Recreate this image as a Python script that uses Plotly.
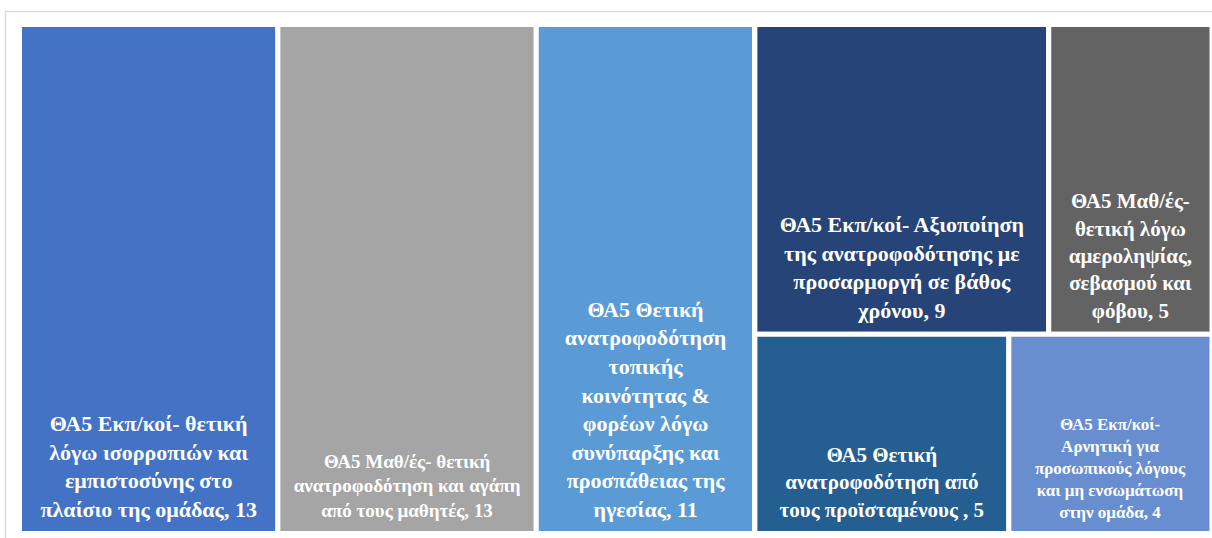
import plotly.graph_objects as go

# Leaf categories (label text wrapped as in the reference)
labels = [
    "ΘΑ5 Εκπ/κοί- θετική<br>λόγω ισορροπιών και<br>εμπιστοσύνης στο<br>πλαίσιο της ομάδας, 13",
    "ΘΑ5 Μαθ/ές- θετική<br>ανατροφοδότηση και αγάπη<br>από τους μαθητές, 13",
    "ΘΑ5 Θετική<br>ανατροφοδότηση<br>τοπικής<br>κοινότητας &<br>φορέων λόγω<br>συνύπαρξης και<br>προσπάθειας της<br>ηγεσίας, 11",
    "ΘΑ5 Εκπ/κοί- Αξιοποίηση<br>της ανατροφοδότησης με<br>προσαρμοργή σε βάθος<br>χρόνου, 9",
    "ΘΑ5 Μαθ/ές-<br>θετική λόγω<br>αμεροληψίας,<br>σεβασμού και<br>φόβου, 5",
    "ΘΑ5 Θετική<br>ανατροφοδότηση από<br>τους προϊσταμένους , 5",
    "ΘΑ5 Εκπ/κοί-<br>Αρνητική για<br>προσωπικούς λόγους<br>και μη ενσωμάτωση<br>στην ομάδα, 4",
]
values = [13, 13, 11, 9, 5, 5, 4]

# styling
colors = ["#4472C4", "#A5A5A5", "#5B9BD5", "#264478", "#636363", "#255E91", "#698ED0"]
font_sizes = [22, 19, 22, 22, 21, 21, 17]
BOTTOM_LIFT = 9  # extra space under the labels (px)

# hierarchy: columns t1,t2,t3,group ; group -> top row (t4,t5), bottom row (t6,t7)
leaf_ids = ["t1", "t2", "t3", "t4", "t5", "t6", "t7"]

g1 = values[3] + values[4]
g2 = values[5] + values[6]
g = g1 + g2
total = sum(values)

ids = ["root", "t1", "t2", "t3", "g", "g1", "t4", "t5", "g2", "t6", "t7"]
parents = ["", "root", "root", "root", "root", "g", "g1", "g1", "g", "g2", "g2"]
vals = [total, values[0], values[1], values[2], g, g1, values[3], values[4], g2, values[5], values[6]]
idx = {k: i for i, k in enumerate(leaf_ids)}


def spacer(f):
    s = (1.084 * f - BOTTOM_LIFT) / 0.269
    return "<br><span style='font-size:%.1fpx'><sup>\u00a0</sup></span>" % s


texts, cols, sizes = [], [], []
for k in ids:
    if k in idx:
        i = idx[k]
        texts.append(labels[i] + spacer(font_sizes[i]))
        cols.append(colors[i])
        sizes.append(font_sizes[i])
    else:
        texts.append("")
        cols.append("#FFFFFF")
        sizes.append(12)

fig = go.Figure(go.Treemap(
    ids=ids, parents=parents, values=vals, labels=ids, text=texts,
    branchvalues="total", sort=False,
    texttemplate="%{text}", textposition="bottom center",
    textfont=dict(family="Liberation Serif", color="white", size=sizes, weight="bold"),
    marker=dict(colors=cols, line=dict(color="white", width=5),
                pad=dict(t=0, l=0, r=0, b=0)),
    tiling=dict(packing="slice-dice", pad=0),
    pathbar=dict(visible=False),
    root=dict(color="white"),
    hoverinfo="skip",
    domain=dict(x=[19.5 / 1212, 1], y=[1 - 533.5 / 538, 1 - 24.5 / 538]),
))

fig.update_layout(
    width=1212, height=538,
    margin=dict(l=0, r=0, t=0, b=0),
    paper_bgcolor="white", plot_bgcolor="white",
    shapes=[
        dict(type="line", xref="paper", yref="paper", x0=5.5 / 1212, x1=5.5 / 1212,
             y0=0, y1=1 - 11 / 538, line=dict(color="#D9D9D9", width=1.5)),
        dict(type="line", xref="paper", yref="paper", x0=5.5 / 1212, x1=1,
             y0=1 - 11.5 / 538, y1=1 - 11.5 / 538, line=dict(color="#D9D9D9", width=1.5)),
    ],
)

fig.write_html("out.html")
